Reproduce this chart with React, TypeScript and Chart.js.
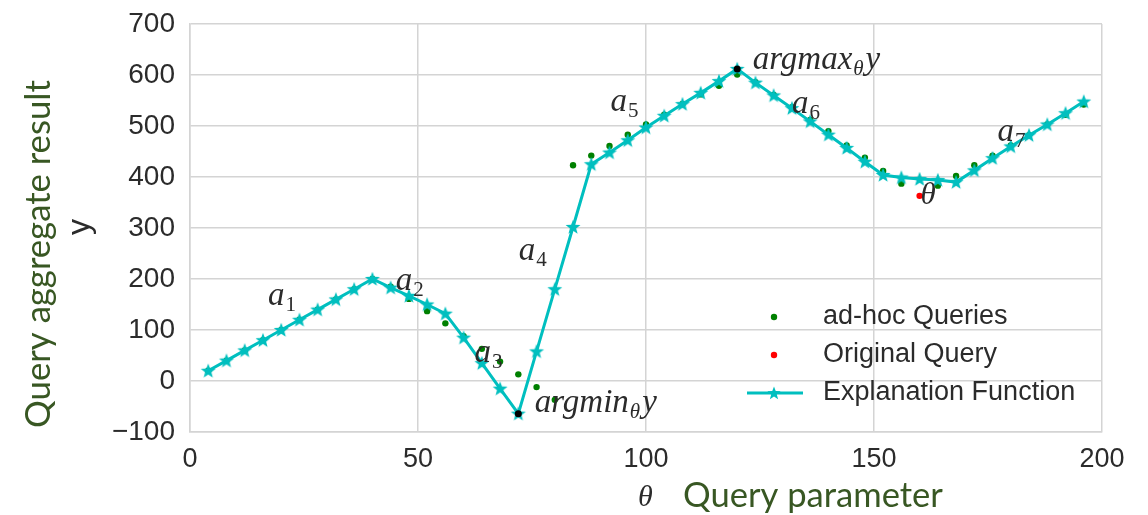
import React, { useEffect, useRef } from 'react';
import { Chart, registerables } from 'chart.js';

Chart.register(...registerables);

// ---------- data ----------
const explanationTheta = [
  4, 8, 12, 16, 20, 24, 28, 32, 36, 40,
  44, 48, 52, 56, 60, 64, 68, 72, 76, 80,
  84, 88, 92, 96, 100, 104, 108, 112, 116, 120,
  124, 128, 132, 136, 140, 144, 148, 152, 156, 160,
  164, 168, 172, 176, 180, 184, 188, 192, 196,
];
const explanationY = [
  20, 40, 60, 80, 100, 120, 140, 160, 180, 200,
  183, 167, 150, 132, 85, 35, -15, -64, 58, 180,
  302, 425, 448, 472, 497, 520, 543, 565, 588, 612,
  585, 560, 535, 509, 483, 457, 430, 404, 399, 396,
  394, 390, 413, 437, 460, 482, 503, 525, 548,
];

const adhocTheta = [
  4, 8, 12, 16, 20, 24, 28, 32, 36, 40,
  44, 48, 52, 56, 60, 64, 68, 72, 76, 80,
  84, 88, 92, 96, 100, 104, 108, 112, 116, 120,
  124, 128, 132, 136, 140, 144, 148, 152, 156,
  164, 168, 172, 176, 180, 184, 188, 192, 196,
];
const adhocY = [
  20, 40, 60, 80, 100, 120, 140, 160, 180, 200,
  185, 161, 137, 113, 88, 63, 38, 13, -12, -37,
  423, 442, 461, 483, 503, 522, 543, 562, 579, 601,
  586, 561, 537, 512, 490, 462, 438, 412, 387,
  383, 402, 423, 442, 462, 482, 503, 522, 542,
];

const originalTheta = [160];
const originalY = [363];

const extremeTheta = [72, 120];
const extremeY = [-64, 612];

const xTicks = [0, 50, 100, 150, 200];
const yTicks = [-100, 0, 100, 200, 300, 400, 500, 600, 700];

const legendLabels = ['ad-hoc Queries', 'Original Query', 'Explanation Function'];

// annotation labels (math text), anchored at data coords (left, baseline)
const segmentLabels = [
  { sub: '1', x: 17.1, y: 150 },
  { sub: '2', x: 45.1, y: 179 },
  { sub: '3', x: 62.4, y: 38 },
  { sub: '4', x: 72.1, y: 237 },
  { sub: '5', x: 92.2, y: 530 },
  { sub: '6', x: 132.0, y: 526 },
  { sub: '7', x: 177.1, y: 471 },
];

// ---------- styles ----------
const CYAN = '#00bfbf';
const GREEN = '#008000';
const RED = '#ff0000';
const TEXT = '#2b2b2b';
const GRID = '#d4d4d4';
const TITLE_GREEN = '#385723';
const TICK_FONT = '"Liberation Sans", Arial, sans-serif';
const MATH_FONT = '"Liberation Serif", "DejaVu Serif", serif';

function makeStar(outer: number, color: string): HTMLCanvasElement {
  const c = document.createElement('canvas');
  const s = Math.ceil(outer * 2 + 2);
  c.width = s;
  c.height = s;
  const g = c.getContext('2d')!;
  const cx = s / 2;
  const cy = s / 2 + 0.5;
  const inner = outer * 0.42;
  g.beginPath();
  for (let i = 0; i < 10; i++) {
    const r = i % 2 === 0 ? outer : inner;
    const a = -Math.PI / 2 + (i * Math.PI) / 5;
    const px = cx + r * Math.cos(a);
    const py = cy + r * Math.sin(a);
    if (i === 0) g.moveTo(px, py);
    else g.lineTo(px, py);
  }
  g.closePath();
  g.fillStyle = color;
  g.fill();
  return c;
}

type Run = { t: string; size: number; italic: boolean; dy: number; gap?: number };

function drawRuns(ctx: CanvasRenderingContext2D, runs: Run[], x: number, y: number) {
  let cx = x;
  for (const r of runs) {
    ctx.font = `${r.italic ? 'italic ' : ''}${r.size}px ${MATH_FONT}`;
    cx += r.gap || 0;
    ctx.fillText(r.t, cx, y + r.dy);
    cx += ctx.measureText(r.t).width;
  }
}

export default function App() {
  const ref = useRef<HTMLCanvasElement>(null);

  useEffect(() => {
    document.body.style.margin = '0';
    const star = makeStar(7.8, CYAN);
    const legendStar = makeStar(7, CYAN);

    const overlay = {
      id: 'overlay',
      afterDatasetsDraw(chart: any) {
        const ctx: CanvasRenderingContext2D = chart.ctx;
        const xs = chart.scales.x;
        const ys = chart.scales.y;
        ctx.save();
        ctx.fillStyle = TEXT;
        ctx.textAlign = 'left';
        ctx.textBaseline = 'alphabetic';
        for (const l of segmentLabels) {
          drawRuns(
            ctx,
            [
              { t: 'a', size: 33, italic: true, dy: 0 },
              { t: l.sub, size: 21, italic: false, dy: 6, gap: 1 },
            ],
            xs.getPixelForValue(l.x),
            ys.getPixelForValue(l.y)
          );
        }
        drawRuns(
          ctx,
          [
            { t: 'argmax', size: 33, italic: true, dy: 0 },
            { t: 'θ', size: 21, italic: true, dy: 6, gap: 1 },
            { t: 'y', size: 33, italic: true, dy: 0, gap: 2 },
          ],
          xs.getPixelForValue(123.4),
          ys.getPixelForValue(611)
        );
        drawRuns(
          ctx,
          [
            { t: 'argmin', size: 33, italic: true, dy: 0 },
            { t: 'θ', size: 21, italic: true, dy: 6, gap: 1 },
            { t: 'y', size: 33, italic: true, dy: 0, gap: 2 },
          ],
          xs.getPixelForValue(75.6),
          ys.getPixelForValue(-61)
        );
        drawRuns(
          ctx,
          [{ t: 'θ', size: 31, italic: true, dy: 0 }],
          xs.getPixelForValue(160.2),
          ys.getPixelForValue(348)
        );
        ctx.restore();
      },
      afterDraw(chart: any) {
        const ctx: CanvasRenderingContext2D = chart.ctx;
        ctx.save();
        // legend
        const mx = 774;
        const rows = [317, 355, 393];
        ctx.fillStyle = GREEN;
        ctx.beginPath();
        ctx.arc(mx, rows[0], 3.2, 0, Math.PI * 2);
        ctx.fill();
        ctx.fillStyle = RED;
        ctx.beginPath();
        ctx.arc(mx, rows[1], 3.2, 0, Math.PI * 2);
        ctx.fill();
        ctx.strokeStyle = CYAN;
        ctx.lineWidth = 3;
        ctx.beginPath();
        ctx.moveTo(747, rows[2]);
        ctx.lineTo(803, rows[2]);
        ctx.stroke();
        ctx.drawImage(legendStar, mx - legendStar.width / 2, rows[2] - legendStar.height / 2);
        ctx.fillStyle = TEXT;
        ctx.font = `27px ${TICK_FONT}`;
        ctx.textBaseline = 'middle';
        ctx.textAlign = 'left';
        legendLabels.forEach((t, i) => ctx.fillText(t, 823, rows[i]));

        // y axis title (green) + "y"
        ctx.textBaseline = 'alphabetic';
        ctx.textAlign = 'center';
        const yTitle = 'Query aggregate result';
        ctx.font = `30px Lato, "Open Sans", sans-serif`;
        let w = ctx.measureText(yTitle).width;
        const ySize = (30 * 348) / w;
        ctx.font = `${ySize}px Lato, "Open Sans", sans-serif`;
        ctx.fillStyle = TITLE_GREEN;
        ctx.translate(50, 254);
        ctx.rotate(-Math.PI / 2);
        ctx.fillText(yTitle, 0, 0);
        ctx.setTransform(1, 0, 0, 1, 0, 0);
        ctx.fillStyle = TEXT;
        ctx.font = `32px ${TICK_FONT}`;
        ctx.translate(89, 227);
        ctx.rotate(-Math.PI / 2);
        ctx.fillText('y', 0, 0);
        ctx.setTransform(1, 0, 0, 1, 0, 0);

        // x axis title
        ctx.textAlign = 'left';
        ctx.fillStyle = TEXT;
        ctx.font = `italic 30px ${MATH_FONT}`;
        ctx.fillText('θ', 638, 506);
        const xTitle = 'Query parameter';
        ctx.font = `30px Lato, "Open Sans", sans-serif`;
        w = ctx.measureText(xTitle).width;
        const xSize = (30 * 260) / w;
        ctx.font = `${xSize}px Lato, "Open Sans", sans-serif`;
        ctx.fillStyle = TITLE_GREEN;
        ctx.fillText(xTitle, 683, 507);
        ctx.restore();
      },
    };

    const chart = new Chart(ref.current!, {
      type: 'scatter',
      data: {
        datasets: [
          {
            label: legendLabels[0],
            data: adhocTheta.map((t, i) => ({ x: t, y: adhocY[i] })),
            backgroundColor: GREEN,
            borderColor: GREEN,
            pointRadius: 3.2,
            pointBorderWidth: 0,
            showLine: false,
            order: 3,
          },
          {
            label: legendLabels[1],
            data: originalTheta.map((t, i) => ({ x: t, y: originalY[i] })),
            backgroundColor: RED,
            borderColor: RED,
            pointRadius: 3.2,
            pointBorderWidth: 0,
            showLine: false,
            order: 1,
          },
          {
            label: legendLabels[2],
            data: explanationTheta.map((t, i) => ({ x: t, y: explanationY[i] })),
            borderColor: CYAN,
            backgroundColor: CYAN,
            borderWidth: 3,
            showLine: true,
            pointStyle: star as any,
            pointRadius: 7.8,
            order: 2,
          },
          {
            label: 'extremes',
            data: extremeTheta.map((t, i) => ({ x: t, y: extremeY[i] })),
            backgroundColor: '#000000',
            borderColor: '#000000',
            pointRadius: 3.5,
            pointBorderWidth: 0,
            showLine: false,
            order: 0,
          },
        ],
      },
      options: {
        animation: false,
        responsive: false,
        devicePixelRatio: 1,
        layout: { padding: { left: 0, right: 46, top: 24, bottom: 0 } },
        plugins: {
          legend: { display: false },
          tooltip: { enabled: false },
        },
        scales: {
          x: {
            type: 'linear',
            min: 0,
            max: 200,
            afterBuildTicks: (s: any) => {
              s.ticks = xTicks.map((v) => ({ value: v }));
            },
            afterFit: (s: any) => {
              s.height = 83;
              s.paddingLeft = 0;
              s.paddingRight = 0;
            },
            grid: { color: GRID, lineWidth: 1.5, drawTicks: false },
            border: { color: GRID, width: 1.5 },
            ticks: {
              padding: 11,
              color: TEXT,
              font: { family: TICK_FONT, size: 27 },
              maxRotation: 0,
            },
          },
          y: {
            type: 'linear',
            min: -100,
            max: 700,
            afterBuildTicks: (s: any) => {
              s.ticks = yTicks.map((v) => ({ value: v }));
            },
            afterFit: (s: any) => {
              s.width = 190;
              s.paddingTop = 0;
              s.paddingBottom = 0;
            },
            grid: { color: GRID, lineWidth: 1.5, drawTicks: false },
            border: { color: GRID, width: 1.5 },
            ticks: {
              padding: 15,
              color: TEXT,
              font: { family: TICK_FONT, size: 28 },
              callback: (v: any) => (Number(v) < 0 ? '\u2212' + Math.abs(Number(v)) : String(v)),
            },
          },
        },
      },
      plugins: [overlay],
    });
    return () => chart.destroy();
  }, []);

  return (
    <div style={{ position: 'relative', width: 1148, height: 515 }}>
      <canvas ref={ref} width={1148} height={515} style={{ display: 'block' }} />
    </div>
  );
}
